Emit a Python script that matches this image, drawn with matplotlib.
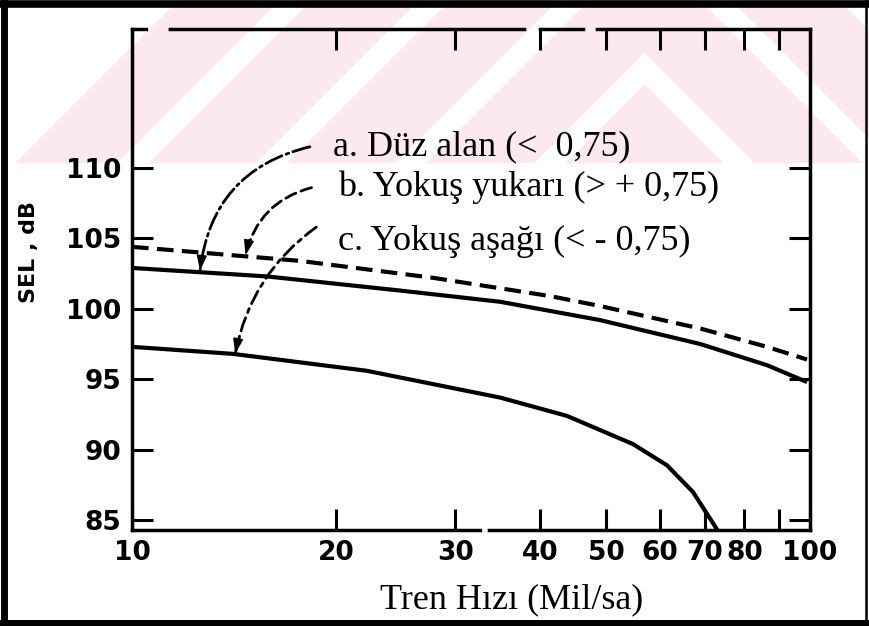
import numpy as np
import matplotlib
matplotlib.use("Agg")
import matplotlib.pyplot as plt
from matplotlib.lines import Line2D

# values
speed_a = [10.0, 15.8, 24.8, 34.9, 49.0, 68.9, 86.4, 99.0]
sel_a = [102.9, 102.3, 101.3, 100.5, 99.2, 97.5, 96.0, 94.8]

speed_b = [10.0, 17.7, 27.8, 41.4, 49.0, 68.9, 86.4, 99.0]
sel_b = [104.4, 103.4, 102.2, 100.9, 100.2, 98.6, 97.3, 96.4]

speed_c = [10.0, 14.1, 22.2, 34.9, 43.8, 54.8, 61.5, 67.2, 71.9, 73.0]
sel_c = [97.3, 96.8, 95.6, 93.7, 92.4, 90.4, 88.9, 87.0, 84.8, 84.3]

x_ticks = [10, 20, 30, 40, 50, 60, 70, 80, 90, 100]
x_labels = ["10", "20", "30", "40", "50", "60", "70", "80", "", "100"]
y_ticks = [85, 90, 95, 100, 105, 110]

legend_lines = [
    "a. Düz alan (<  0,75)",
    "b. Yokuş yukarı (> + 0,75)",
    "c. Yokuş aşağı (< - 0,75)",
]
# (label end, point on curve) for the leader arrows
leader_start = [(18.3, 111.5), (18.4, 108.6), (18.7, 105.8)]
leader_tip = [(12.6, 102.7), (14.7, 103.8), (14.2, 96.8)]
leader_rad = [0.35, 0.3, 0.2]
leader_style = ["-.", (0, (4, 2)), (0, (5, 2, 1.5, 2))]

W, H = 869, 626
fig = plt.figure(figsize=(W / 100, H / 100), dpi=100)
fig.patch.set_facecolor("white")

# faint pink watermark stripes behind the chart
bg = fig.add_axes([0, 0, 1, 1], zorder=-1)
bg.axis("off")
yy, xx = np.mgrid[0:H, 0:W]
u = yy - np.abs(xx - 644)
pink = (yy < 163) & (u > -467)
for c in [-349, -210, -71, 68]:
    pink &= np.abs(u - c) > 15
img = np.ones((H, W, 3))
img[pink] = (252 / 255, 233 / 255, 237 / 255)
bg.imshow(img, extent=[0, W, H, 0], aspect="auto", interpolation="nearest")
bg.set_xlim(0, W)
bg.set_ylim(H, 0)

ax = fig.add_axes([132 / W, 1 - 530 / H, (810 - 132) / W, (530 - 29) / H])
ax.set_facecolor("none")
ax.set_xscale("log")
ax.set_xlim(10, 100)
ax.set_ylim(84.3, 119.86)

ax.plot(speed_a, sel_a, color="black", lw=3.0, solid_capstyle="butt")
ax.plot(speed_b, sel_b, color="black", lw=3.0, ls=(0, (4, 2)))
ax.plot(speed_c, sel_c, color="black", lw=3.0, solid_capstyle="butt")

ax.set_xticks(x_ticks)
ax.set_xticklabels(x_labels)
ax.xaxis.set_minor_locator(matplotlib.ticker.NullLocator())
ax.set_yticks(y_ticks)
ax.set_yticklabels([str(v) for v in y_ticks])
ax.tick_params(axis="both", direction="in", length=15, width=2.2, top=True, right=True,
               labelsize=19, color="black")
ax.tick_params(axis="x", pad=7)
ax.tick_params(axis="y", pad=8)
for lab in ax.get_xticklabels() + ax.get_yticklabels():
    lab.set_fontweight("bold")
    lab.set_family("DejaVu Sans")
for sp in ax.spines.values():
    sp.set_linewidth(2.5)
# the scanned frame is broken in a few places
ax.spines["top"].set_linestyle((0, (4.0, 6.9, 102, 4.6, 12.4, 4.0, 80)))
ax.spines["bottom"].set_linestyle((0, (100.2, 2.6, 200)))

ax.set_ylabel("SEL , dB", fontsize=16, fontweight="bold")
ax.yaxis.set_label_coords((39 - 132) / 678, (530 - 252) / 501)
fig.text(512 / W, 1 - 600 / H, "Tren Hızı (Mil/sa)", ha="center", va="center",
         fontsize=26, family="Liberation Serif")

for i, txt in enumerate(legend_lines):
    ypix = [147, 187, 241][i]
    xpix = [333, 338, 338][i]
    fig.text(xpix / W, 1 - ypix / H, txt, ha="left", va="center", fontsize=26,
             family="Liberation Serif")

# leader arrows: dashed body, solid head
for start, tip, rad, ls in zip(leader_start, leader_tip, leader_rad, leader_style):
    p0 = ax.transData.transform(start)
    p2 = ax.transData.transform(tip)
    d = p2 - p0
    ctrl = (p0 + p2) / 2 + rad * np.array([d[1], -d[0]])
    t = (p2 - ctrl) / np.linalg.norm(p2 - ctrl)
    base = ax.transData.inverted().transform(p2 - 16 * t)
    ax.annotate("", xy=tip, xytext=start,
                arrowprops=dict(arrowstyle="-", lw=2, ls=ls, color="black",
                                connectionstyle=f"arc3,rad={rad}", shrinkA=0, shrinkB=0))
    ax.annotate("", xy=tip, xytext=base,
                arrowprops=dict(arrowstyle="-|>,head_length=0.9,head_width=0.3", lw=1.2,
                                color="black", shrinkA=0, shrinkB=0))

# thick scan frame
fig.add_artist(Line2D([3.5 / W, 3.5 / W], [0, 1], color="black", lw=5, transform=fig.transFigure))
fig.add_artist(Line2D([0, 1], [1 - 4 / H, 1 - 4 / H], color="black", lw=5.5, transform=fig.transFigure))
fig.add_artist(Line2D([0, 1], [3.5 / H, 3.5 / H], color="black", lw=5, transform=fig.transFigure))
fig.add_artist(Line2D([1 - 3 / W, 1 - 3 / W], [0, 1], color="black", lw=1.8, transform=fig.transFigure))

fig.savefig("out.png", dpi=100)
